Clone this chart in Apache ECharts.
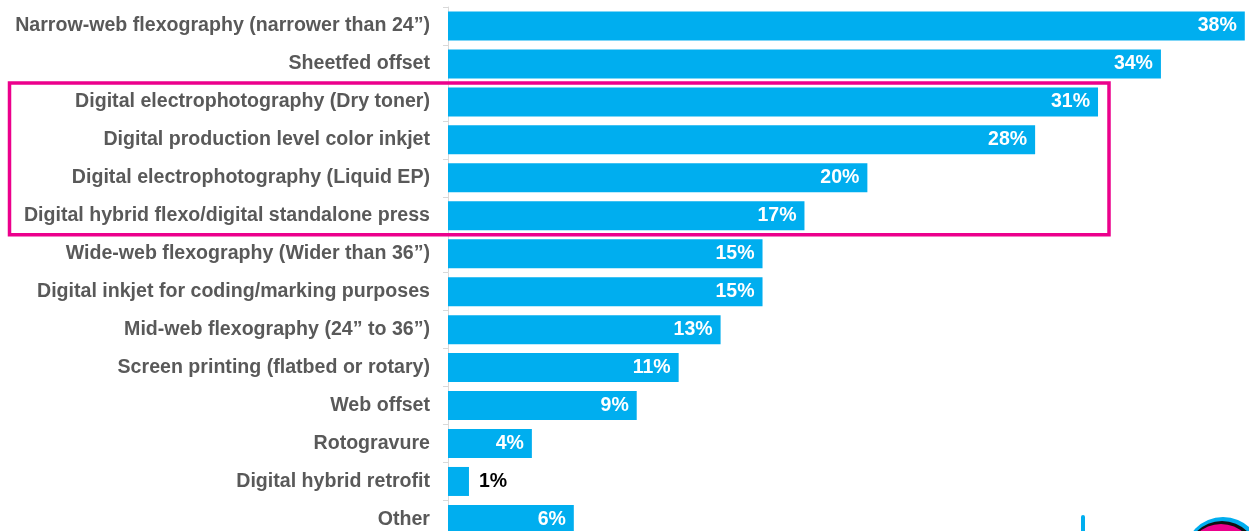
<!DOCTYPE html>
<html>
<head>
<meta charset="utf-8">
<style>
  html, body { margin: 0; padding: 0; background: #ffffff; width: 1249px; height: 531px; overflow: hidden; }
  #chart { width: 1249px; height: 545px; }
</style>
<script src="https://cdn.jsdelivr.net/npm/echarts@6/dist/echarts.min.js"></script>
</head>
<body>
<div id="chart"></div>
<script>
// Printing technologies, top to bottom
const categories = [
  'Narrow-web flexography (narrower than 24\u201d)',
  'Sheetfed offset',
  'Digital electrophotography (Dry toner)',
  'Digital production level color inkjet',
  'Digital electrophotography (Liquid EP)',
  'Digital hybrid flexo/digital standalone press',
  'Wide-web flexography (Wider than 36\u201d)',
  'Digital inkjet for coding/marking purposes',
  'Mid-web flexography (24\u201d to 36\u201d)',
  'Screen printing (flatbed or rotary)',
  'Web offset',
  'Rotogravure',
  'Digital hybrid retrofit',
  'Other'
];
// Share of respondents, percent
const shares = [38, 34, 31, 28, 20, 17, 15, 15, 13, 11, 9, 4, 1, 6];

// Rows grouped in the highlight frame (first and last index)
const highlightRows = [2, 5];

const BLUE = '#00aeef';
const PINK = '#ec008c';
const FONT = '"Liberation Sans", Arial, sans-serif';

// The last row runs past the bottom of the visible page
const GRID_TOP = 7;
const GRID_HEIGHT = 531.4;
const BAND = GRID_HEIGHT / categories.length;

const chart = echarts.init(document.getElementById('chart'));

const seriesData = shares.map(function (v) {
  const small = v < 3;
  return {
    value: v,
    label: small
      ? { position: 'right', color: '#000000', distance: 10 }
      : { position: 'insideRight', color: '#ffffff', distance: 8 }
  };
});

chart.setOption({
  animation: false,
  grid: { left: 448, right: 0, top: GRID_TOP, height: GRID_HEIGHT, containLabel: false },
  xAxis: {
    type: 'value', min: 0, max: 38.2,
    show: false
  },
  yAxis: {
    type: 'category',
    data: categories,
    inverse: true,
    axisLine: { show: true, lineStyle: { color: '#d9d9d9', width: 1 } },
    axisTick: { show: true, length: 5, lineStyle: { color: '#d9d9d9' } },
    axisLabel: {
      color: '#595959', fontFamily: FONT, fontWeight: 'bold', fontSize: 19.6, margin: 18
    },
    splitLine: { show: false }
  },
  series: [{
    type: 'bar',
    data: seriesData,
    barWidth: 29,
    itemStyle: { color: BLUE },
    label: {
      show: true,
      formatter: function (p) { return p.value + '%'; },
      fontFamily: FONT, fontWeight: 'bold', fontSize: 19.5
    }
  }]
});

// Highlight frame around the digital group, bounded by category rows
function drawDecor() {
  const half = BAND / 2;
  const yTop = chart.convertToPixel({ yAxisIndex: 0 }, categories[highlightRows[0]]) - half;
  const yBot = chart.convertToPixel({ yAxisIndex: 0 }, categories[highlightRows[1]]) + half;
  chart.setOption({
    graphic: [
      {
        type: 'rect',
        shape: { x: 9.5, y: yTop, width: 1099.5, height: yBot - yTop },
        style: { fill: 'none', stroke: PINK, lineWidth: 3.5 },
        z: 100
      },
      // corner logo pieces
      {
        type: 'line',
        shape: { x1: 1083, y1: 517, x2: 1083, y2: 540 },
        style: { stroke: BLUE, lineWidth: 4, lineCap: 'round' },
        z: 100
      },
      { type: 'circle', shape: { cx: 1223, cy: 556, r: 39 }, style: { fill: BLUE }, z: 100 },
      { type: 'circle', shape: { cx: 1222, cy: 557, r: 36 }, style: { fill: '#111111' }, z: 101 },
      { type: 'circle', shape: { cx: 1221, cy: 558, r: 34 }, style: { fill: PINK }, z: 102 },
      { type: 'circle', shape: { cx: 1221, cy: 561, r: 24 }, style: { fill: '#fff200' }, z: 103 },
      { type: 'circle', shape: { cx: 1221, cy: 564, r: 17 }, style: { fill: '#ffffff' }, z: 104 }
    ]
  });
}
drawDecor();
</script>
</body>
</html>
